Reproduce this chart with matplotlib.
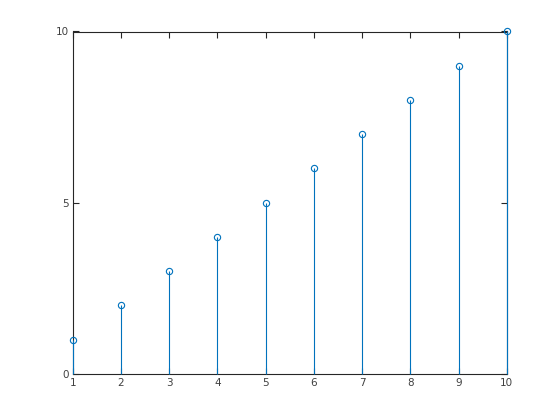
import matplotlib
matplotlib.use("Agg")
import matplotlib.pyplot as plt

x_vals = [1, 2, 3, 4, 5, 6, 7, 8, 9, 10]
y_vals = [1, 2, 3, 4, 5, 6, 7, 8, 9, 10]
x_ticks = [1, 2, 3, 4, 5, 6, 7, 8, 9, 10]
y_ticks = [0, 5, 10]

blue = "#0072BD"
axcol = "#262626"

fig = plt.figure(figsize=(5.6, 4.2), dpi=100)
ax = fig.add_axes([0.13, 0.11, 0.775, 0.815])

markers, stems, base = ax.stem(x_vals, y_vals, basefmt=" ")
plt.setp(stems, color=blue, linewidth=0.8, clip_on=False, zorder=3)
plt.setp(markers, color=blue, marker="o", markersize=4.5, markerfacecolor="none",
         markeredgewidth=0.8, clip_on=False, zorder=4)

ax.set_xlim(1, 10)
ax.set_ylim(0, 10)
ax.set_xticks(x_ticks)
ax.set_yticks(y_ticks)

for s in ax.spines.values():
    s.set_color(axcol)
    s.set_linewidth(0.8)
ax.tick_params(direction="in", top=True, right=True, length=4, width=0.8,
               colors=axcol, labelsize=7.5, labelcolor="#404040", pad=3)

fig.savefig("out.png", dpi=100)
